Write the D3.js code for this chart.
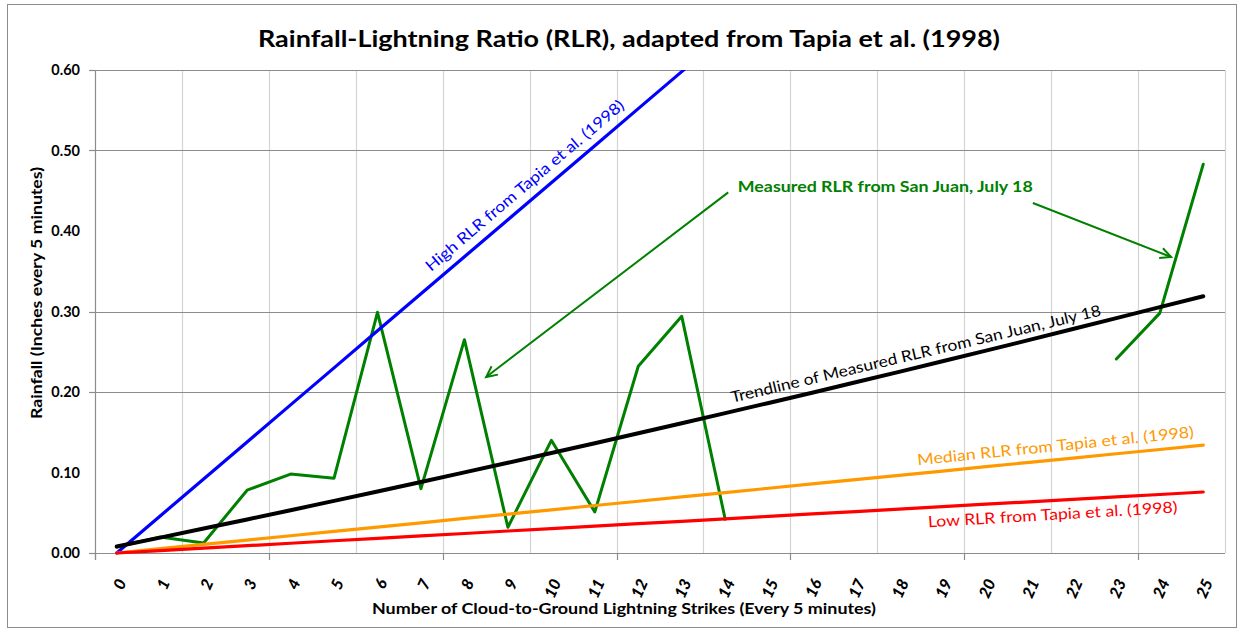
<!DOCTYPE html>
<html><head><meta charset="utf-8">
<script src="https://cdn.jsdelivr.net/npm/d3@7"></script>
<style>
html,body{margin:0;padding:0;background:#fff;}
svg{display:block;font-family:Lato,"Open Sans",sans-serif;}
</style></head>
<body>
<svg id="chart" width="1244" height="631"></svg>
<script>
// ---------- data ----------
const categories = ["0","1","2","3","4","5","6","7","8","9","10","11","12","13","14","15","16","17","18","19","20","21","22","23","24","25"];
const measured = [0.0075,0.020,0.0125,0.078,0.098,0.093,0.299,0.080,0.265,0.032,0.140,0.051,0.232,0.294,0.042,null,null,null,null,null,null,null,null,0.241,0.298,0.483];
const trendline = [0.0080,0.0191,0.0304,0.0417,0.0532,0.0647,0.0764,0.0882,0.1001,0.1121,0.1242,0.1364,0.1487,0.1612,0.1737,0.1864,0.1991,0.2121,0.2250,0.2382,0.2514,0.2647,0.2782,0.2918,0.3054,0.3189];
const highRLR = [0,0.046,0.092,0.138,0.184,0.230,0.276,0.322,0.368,0.414,0.460,0.506,0.552,0.598,0.644];
const medianRLR = [0,0.0054,0.0107,0.0161,0.0214,0.0268,0.0322,0.0375,0.0429,0.0482,0.0536,0.0590,0.0643,0.0697,0.0750,0.0804,0.0858,0.0911,0.0965,0.1018,0.1072,0.1126,0.1179,0.1233,0.1286,0.1340];
const lowRLR = [0,0.0030,0.0061,0.0091,0.0121,0.0152,0.0182,0.0212,0.0242,0.0273,0.0303,0.0333,0.0364,0.0394,0.0424,0.0455,0.0485,0.0515,0.0545,0.0576,0.0606,0.0636,0.0667,0.0697,0.0727,0.0758];
const yTickLabels = [0,0.1,0.2,0.3,0.4,0.5,0.6];
const yGridValues = [0.2,0.3,0.5,0.6];
const xGridBoundaries = [2,4,6,8,10,12,14,16,18,20,22,24,26];
const xTickBoundaries = [0,4,8,12,16,20,24];
const titleText = "Rainfall-Lightning Ratio (RLR), adapted from Tapia et al. (1998)";
const xTitle = "Number of Cloud-to-Ground Lightning Strikes (Every 5 minutes)";
const yTitle = "Rainfall (Inches every 5 minutes)";
// annotations in data coords (strike index, rainfall)
const arrows = [
  {from:[14.07,0.448], to:[8.50,0.2186]},
  {from:[21.08,0.4348], to:[24.26,0.3677]}
];
const labels = [
  {text:"Measured RLR from San Juan, July 18", at:[14.29,0.448], angle:0, color:"#008000", bold:true, len:295},
  {text:"High RLR from Tapia et al. (1998)", at:[7.23,0.349], angle:-40.3, color:"#0000FF", bold:false, len:255},
  {text:"Trendline of Measured RLR from San Juan, July 18", at:[14.16,0.1865], angle:-13.3, color:"#000000", bold:false, len:380},
  {text:"Median RLR from Tapia et al. (1998)", at:[18.43,0.109], angle:-5.8, color:"#FF9900", bold:false, len:278},
  {text:"Low RLR from Tapia et al. (1998)", at:[18.67,0.032], angle:-3.4, color:"#FF0000", bold:false, len:250}
];

// ---------- layout ----------
const plot = {left:95, right:1225, top:70, bottom:553};
const svg = d3.select("#chart");

const x = d3.scaleBand().domain(categories).range([plot.left, plot.right]).padding(0);
const bw = x.bandwidth();
const xc = c => x(c) + bw/2;
const xIdx = d3.scaleLinear().domain([0,25]).range([xc("0"), xc("25")]);
const xB = d3.scaleLinear().domain([0,26]).range([plot.left, plot.right]);
const y = d3.scaleLinear().domain([0,0.6]).range([plot.bottom, plot.top]);

// border
svg.append("rect").attr("x",7.5).attr("y",4.5).attr("width",1229).attr("height",623)
  .attr("fill","#fff").attr("stroke","#8c8c8c").attr("stroke-width",1);

// vertical grid
svg.append("g").selectAll("line").data(xGridBoundaries).join("line")
  .attr("x1",d=>Math.round(xB(d))+0.5).attr("x2",d=>Math.round(xB(d))+0.5)
  .attr("y1",plot.top).attr("y2",plot.bottom)
  .attr("stroke","#d4d4d4").attr("stroke-width",1.2);

// horizontal grid
svg.append("g").selectAll("line").data(yGridValues).join("line")
  .attr("x1",plot.left).attr("x2",plot.right)
  .attr("y1",d=>Math.round(y(d))+0.5).attr("y2",d=>Math.round(y(d))+0.5)
  .attr("stroke","#8c8c8c").attr("stroke-width",1.2);

// y axis line + ticks
svg.append("line").attr("x1",plot.left+0.5).attr("x2",plot.left+0.5)
  .attr("y1",plot.top).attr("y2",plot.bottom+7).attr("stroke","#8c8c8c").attr("stroke-width",1.2);
svg.append("g").selectAll("line").data(yGridValues.concat([0])).join("line")
  .attr("x1",plot.left-6).attr("x2",plot.left)
  .attr("y1",d=>Math.round(y(d))+0.5).attr("y2",d=>Math.round(y(d))+0.5)
  .attr("stroke","#8c8c8c").attr("stroke-width",1.2);
// y labels
svg.append("g").selectAll("text").data(yTickLabels).join("text")
  .attr("x",80).attr("y",d=>y(d)).attr("dy","0.35em")
  .attr("text-anchor","end").attr("font-size",14.5).attr("font-weight","bold")
  .attr("fill","#000").text(d3.format(".2f"));

// x axis line + ticks
svg.append("line").attr("x1",plot.left).attr("x2",plot.right)
  .attr("y1",plot.bottom+0.5).attr("y2",plot.bottom+0.5).attr("stroke","#8c8c8c").attr("stroke-width",1.2);
svg.append("g").selectAll("line").data(xTickBoundaries).join("line")
  .attr("x1",d=>Math.round(xB(d))+0.5).attr("x2",d=>Math.round(xB(d))+0.5)
  .attr("y1",plot.bottom).attr("y2",plot.bottom+7)
  .attr("stroke","#8c8c8c").attr("stroke-width",1.2);
// x labels
svg.append("g").selectAll("text").data(categories).join("text")
  .attr("transform",d=>`translate(${xc(d)+5},${plot.bottom+27}) rotate(-66)`)
  .attr("text-anchor","end").attr("dy","0.35em")
  .attr("font-size",16).attr("font-weight","900").attr("font-style","italic")
  .attr("fill","#000").text(d=>d);

// clip
svg.append("clipPath").attr("id","clip").append("rect")
  .attr("x",plot.left).attr("y",plot.top).attr("width",plot.right-plot.left).attr("height",plot.bottom-plot.top+4);
const g = svg.append("g").attr("clip-path","url(#clip)");

const line = d3.line().defined(d=>d.v!=null).x(d=>xc(d.c)).y(d=>y(d.v));
const toPts = arr => arr.map((v,i)=>({c:categories[i], v}));

const series = [
  {data:measured, color:"#008000", w:3},
  {data:highRLR, color:"#0000FF", w:3.2},
  {data:medianRLR, color:"#FF9900", w:3.2},
  {data:lowRLR, color:"#FF0000", w:3.2},
  {data:trendline, color:"#000000", w:4}
];
g.selectAll("path.s").data(series).join("path").attr("class","s")
  .attr("d",s=>line(toPts(s.data)))
  .attr("fill","none").attr("stroke",s=>s.color).attr("stroke-width",s=>s.w)
  .attr("stroke-linejoin","round").attr("stroke-linecap","round");

// arrows
const ag = svg.append("g");
arrows.forEach(a=>{
  const x1=xIdx(a.from[0]), y1=y(a.from[1]), x2=xIdx(a.to[0]), y2=y(a.to[1]);
  ag.append("line").attr("x1",x1).attr("y1",y1).attr("x2",x2).attr("y2",y2)
    .attr("stroke","#008000").attr("stroke-width",2);
  const ang = Math.atan2(y2-y1,x2-x1), L=12, sp=0.45;
  const p1=[x2-L*Math.cos(ang-sp), y2-L*Math.sin(ang-sp)];
  const p2=[x2-L*Math.cos(ang+sp), y2-L*Math.sin(ang+sp)];
  ag.append("path").attr("d",`M${p1}L${x2},${y2}L${p2}`)
    .attr("fill","none").attr("stroke","#008000").attr("stroke-width",2)
    .attr("stroke-linejoin","miter");
});

// labels
svg.append("g").selectAll("text").data(labels).join("text")
  .attr("transform",d=>`translate(${xIdx(d.at[0])},${y(d.at[1])}) rotate(${d.angle})`)
  .attr("text-anchor","start")
  .attr("font-size",d=>d.bold?16:15.5).attr("font-weight",d=>d.bold?"bold":"normal")
  .attr("fill",d=>d.color)
  .attr("textLength",d=>d.len).attr("lengthAdjust","spacingAndGlyphs")
  .text(d=>d.text);

// title
svg.append("text").attr("x",629).attr("y",47).attr("text-anchor","middle")
  .attr("font-size",23).attr("font-weight","bold").attr("fill","#000")
  .attr("textLength",742).attr("lengthAdjust","spacingAndGlyphs").text(titleText);
// axis titles
svg.append("text").attr("x",624).attr("y",614).attr("text-anchor","middle")
  .attr("font-size",15.5).attr("font-weight","bold").attr("fill","#000")
  .attr("textLength",504).attr("lengthAdjust","spacingAndGlyphs").text(xTitle);
svg.append("text").attr("transform","translate(42,293) rotate(-90)").attr("text-anchor","middle")
  .attr("font-size",15.5).attr("font-weight","bold").attr("fill","#000")
  .attr("textLength",252).attr("lengthAdjust","spacingAndGlyphs").text(yTitle);
</script>
</body></html>
